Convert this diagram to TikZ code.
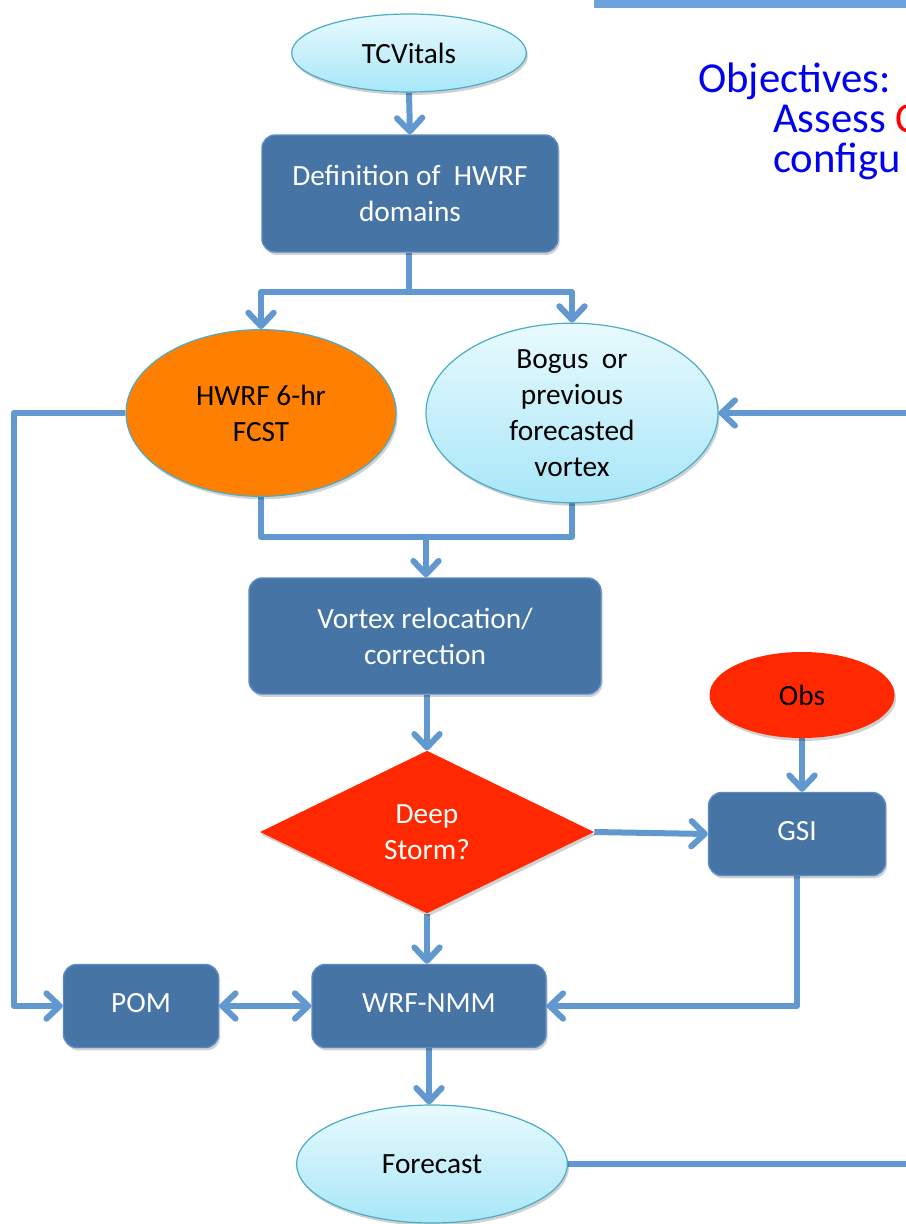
\documentclass[tikz,border=0pt]{standalone}
\usepackage{fontspec}
\setmainfont{Carlito}
\usetikzlibrary{arrows.meta,shapes.geometric,shadows,backgrounds}
\definecolor{boxfill}{HTML}{4674A4}
\definecolor{boxborder}{HTML}{5A8AC6}
\definecolor{arrowc}{HTML}{6198CF}
\definecolor{ellborder}{HTML}{4BACC6}
\definecolor{cyantop}{HTML}{E8FAFE}
\definecolor{cyanbot}{HTML}{A8E6F8}
\definecolor{orangef}{HTML}{FF7F00}
\definecolor{redf}{HTML}{FF2800}
\definecolor{barblue}{HTML}{6CA3DC}
\definecolor{objblue}{HTML}{0000F0}
\tikzset{
  shad/.style={drop shadow={shadow xshift=1.2pt,shadow yshift=-2.2pt,opacity=0.18,fill=black}},
  txt/.style={font=\fontsize{22}{27}\selectfont, align=center, inner sep=0pt},
  boxnode/.style={txt, rectangle, rounded corners=10pt, fill=boxfill, draw=boxborder, line width=1.1pt, text=white, shad},
  cyanell/.style={txt, ellipse, top color=cyantop, bottom color=cyanbot, draw=ellborder, line width=0.9pt, text=black, shad},
  orangeell/.style={txt, ellipse, fill=orangef, draw=ellborder, line width=0.9pt, text=black, shad},
  redell/.style={txt, ellipse, fill=redf, draw=none, text=black, shad},
  reddiamond/.style={txt, diamond, fill=redf, draw=none, text=white, shad},
  conn/.style={draw=arrowc, line width=4.5pt, line join=round},
  arr/.style={conn, -{Straight Barb[round,length=10pt,width=19pt]}},
  dblarr/.style={conn, {Straight Barb[round,length=10pt,width=19pt]}-{Straight Barb[round,length=10pt,width=19pt]}},
  objtxt/.style={font=\fontsize{32}{30}\selectfont, anchor=base west, inner sep=0pt, text=objblue}
}
\begin{document}
\begin{tikzpicture}[x=0.75pt,y=-0.75pt]
\useasboundingbox (0,0) rectangle (906,1224);
\clip (0,0) rectangle (906,1224);
\fill[barblue] (594,0) rectangle (906,8);

% title text
\node[objtxt] (obj1) at (698,92) {Objectives:};
\node[objtxt] (obj2) at (773,132) {Assess \textcolor{red}{C}};
\node[objtxt] (obj3) at (773,172) {configu};

% nodes
\node[cyanell, minimum width=176pt, minimum height=58.5pt] (tcv) at (409,53) {TCVitals};
\node[boxnode, minimum width=222pt, minimum height=87.75pt] (def) at (410,193.5) {Definition of \ HWRF\\domains};
\node[orangeell, minimum width=202.5pt, minimum height=125pt] (hwrf) at (261,413) {HWRF 6-hr\\FCST};
\node[cyanell, minimum width=219pt, minimum height=125pt] (bogus) at (572,413) {Bogus \ or\\previous\\forecasted\\vortex};
\node[boxnode, minimum width=264pt, minimum height=87pt] (vortex) at (425,636) {Vortex relocation/\\correction};
\node[reddiamond, minimum width=250.5pt, minimum height=122pt] (deep) at (427,832) {Deep\\Storm?};
\node[redell, minimum width=138.75pt, minimum height=64.5pt] (obs) at (802,695) {Obs};
\node[boxnode, minimum width=132.75pt, minimum height=62.25pt] (gsi) at (797,834) {\raisebox{5pt}{GSI}};
\node[boxnode, minimum width=175.5pt, minimum height=62.25pt] (wrf) at (429,1006) {\raisebox{5pt}{WRF-NMM}};
\node[boxnode, minimum width=116.25pt, minimum height=62.25pt] (pom) at (141,1006) {\raisebox{5pt}{POM}};
\node[cyanell, minimum width=203pt, minimum height=88.5pt] (fcst) at (432,1164) {Forecast};

% helper coordinates
\coordinate (split) at (409,292);
\coordinate (merge) at (426,537);
\coordinate (rin) at (912,413);
\coordinate (lcorner) at (14,413);
\coordinate (rout) at (912,1164);

% connectors
\begin{scope}[on background layer]
\draw[arr] (tcv.south) -- (def.north);
\draw[conn] (def.south -| split) -- (split);
\draw[arr] (split) -| (hwrf.north);
\draw[arr] (split) -| (bogus.north);
\draw[conn] (hwrf.south) |- (merge);
\draw[conn] (bogus.south) |- (merge);
\draw[arr] (merge) -- (vortex.north -| merge);
\draw[arr] (rin) -- (bogus.east);
\draw[arr] (hwrf.west) -- (lcorner) |- (pom.west);
\draw[arr] (vortex.south -| deep.north) -- (deep.north);
\draw[arr] (deep.east) -- (gsi.west);
\draw[arr] (obs.south) -- (gsi.north -| obs.south);
\draw[arr] (gsi.south) |- (wrf.east);
\draw[arr] (deep.south) -- (wrf.north -| deep.south);
\draw[dblarr] (pom.east) -- (wrf.west);
\draw[arr] (wrf.south) -- (fcst.north -| wrf.south);
\draw[conn] (fcst.east) -- (rout);
\end{scope}
\end{tikzpicture}
\end{document}
